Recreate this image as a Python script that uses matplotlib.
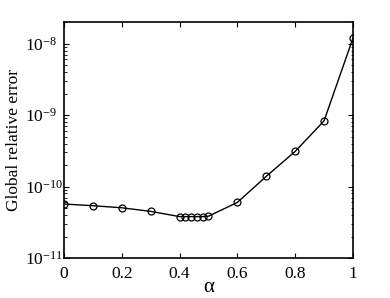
import matplotlib
matplotlib.use('Agg')
import matplotlib.pyplot as plt
import numpy as np
from matplotlib.ticker import LogLocator, FixedLocator

# data
alpha = [0, 0.1, 0.2, 0.3, 0.4, 0.42, 0.44, 0.46, 0.48, 0.5, 0.6, 0.7, 0.8, 0.9, 1.0]
err = [5.7e-11, 5.4e-11, 5.05e-11, 4.5e-11, 3.8e-11, 3.8e-11, 3.8e-11, 3.8e-11, 3.8e-11,
       3.85e-11, 6.0e-11, 1.39e-10, 3.1e-10, 8.3e-10, 1.19e-8]
xticks = [0, 0.2, 0.4, 0.6, 0.8, 1]
xticklabels = ['0', '0.2', '0.4', '0.6', '0.8', '1']
yticks = [1e-11, 1e-10, 1e-9, 1e-8]
yticklabels = [r'$10^{\mathrm{-11}}$', r'$10^{\mathrm{-10}}$', r'$10^{\mathrm{-9}}$', r'$10^{\mathrm{-8}}$']

plt.rcParams['font.family'] = ['Liberation Serif', 'DejaVu Serif']
plt.rcParams['mathtext.fontset'] = 'custom'
plt.rcParams['mathtext.rm'] = 'Liberation Serif'
plt.rcParams['mathtext.it'] = 'Liberation Serif:italic'

fig = plt.figure(figsize=(3.9, 2.98), dpi=100)
ax = fig.add_axes([0.164, 0.134, 0.741, 0.792])

ax.semilogy(alpha, err, '-o', color='black', lw=1.0, markersize=5,
            markerfacecolor='none', markeredgewidth=0.9)

ax.set_xlim(0, 1)
ax.set_ylim(1e-11, 2e-8)
ax.set_xticks(xticks)
ax.set_xticklabels(xticklabels)
ax.yaxis.set_major_locator(FixedLocator(yticks))
ax.yaxis.set_minor_locator(LogLocator(base=10, subs=np.arange(2, 10), numticks=20))
ax.set_yticklabels(yticklabels)

ax.tick_params(which='both', direction='in', top=True, right=True, labelsize=12.5)
ax.tick_params(which='major', length=3.5, width=0.8)
ax.tick_params(which='minor', length=1.8, width=0.6)
ax.tick_params(axis='x', pad=6)
ax.tick_params(axis='y', pad=28)
for t in ax.get_yticklabels():
    t.set_horizontalalignment('left')
for s in ax.spines.values():
    s.set_linewidth(1.2)

ax.set_xlabel('α', fontsize=15, labelpad=-3)
ax.set_ylabel('Global relative error', fontsize=12.5)
ax.yaxis.set_label_coords(-0.145, 0.5)

fig.savefig('out.png', dpi=100)
